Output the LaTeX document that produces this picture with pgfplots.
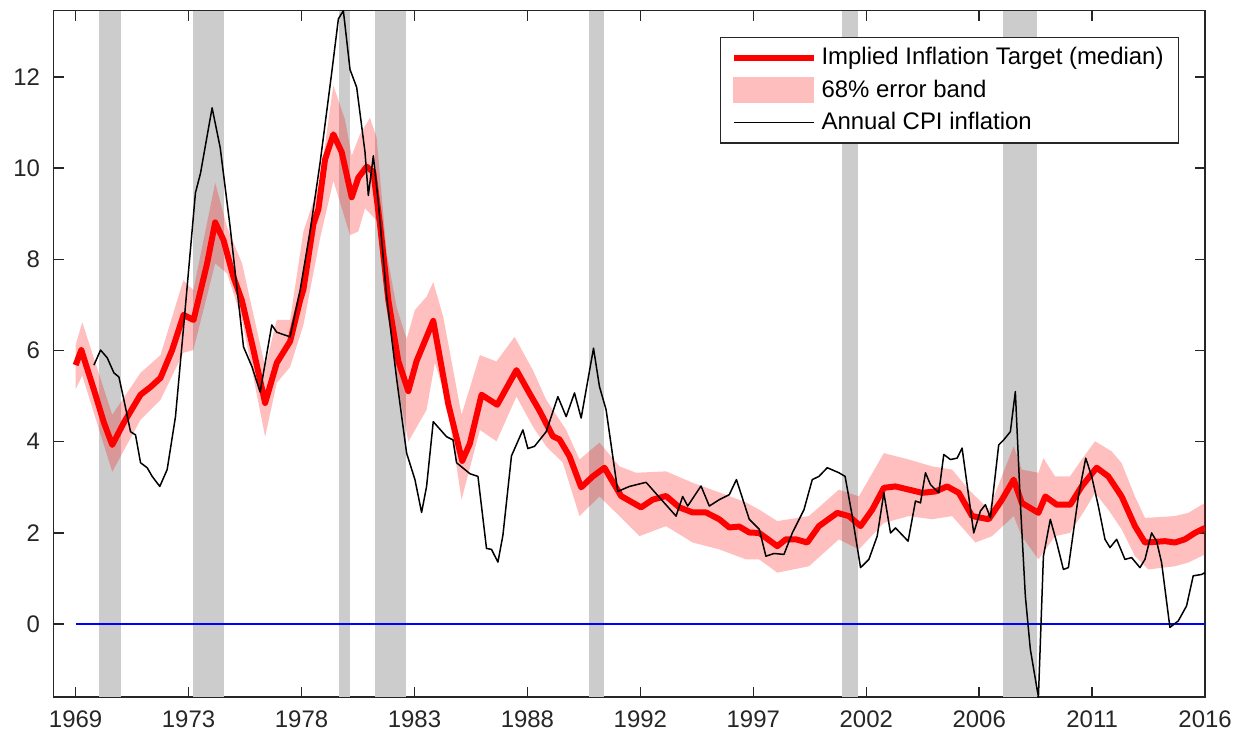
\documentclass[border={2pt 2.8pt 6.4pt 4pt}]{standalone}
\usepackage{fontspec}
\setmainfont{Liberation Sans}
\usepackage{pgfplots}
\pgfplotsset{compat=1.18}

\definecolor{axgray}{RGB}{38,38,38}
\definecolor{recess}{RGB}{204,204,204}
\definecolor{bandred}{RGB}{255,190,190}

\pgfplotsset{
  longline/.style={legend image code/.code={\draw[##1] (0pt,0pt) -- (32pt,0pt);}},
  longarea/.style={legend image code/.code={\fill[bandred] (0pt,-5pt) rectangle (32pt,5pt);}},
  recession/.style={fill=recess, draw=none, forget plot},
}

\begin{document}
\begin{tikzpicture}
\begin{axis}[
  scale only axis,
  width=461.6pt, height=275.2pt,
  xmin=1968.08, xmax=2016.5,
  ymin=-1.6, ymax=13.45,
  xtick={1969,1973.75,1978.5,1983.25,1988,1992.75,1997.5,2002.25,2007,2011.75,2016.5},
  xticklabels={1969,1973,1978,1983,1988,1992,1997,2002,2006,2011,2016},
  ytick={0,2,4,6,8,10,12},
  axis line style={axgray, line width=0.6pt},
  major tick style={axgray, line width=0.6pt},
  major tick length=4pt,
  tick label style={font=\fontsize{9.6}{11.5}\selectfont, text=axgray},
  /pgf/number format/assume math mode=true,
  yticklabel style={xshift=-2pt},
  xticklabel style={yshift=-2pt},
  legend style={at={(0.9775,0.962)}, anchor=north east, draw=axgray,
    line width=0.5pt, fill=white, font=\fontsize{9.6}{11.5}\selectfont,
    inner xsep=4pt, inner ysep=2pt, row sep=0.5pt},
  legend cell align=left,
]

% recessions
\addplot[recession] coordinates {(1970.00,-1.6) (1970.00,13.45) (1970.90,13.45) (1970.90,-1.6)};
\addplot[recession] coordinates {(1973.92,-1.6) (1973.92,13.45) (1975.22,13.45) (1975.22,-1.6)};
\addplot[recession] coordinates {(1980.07,-1.6) (1980.07,13.45) (1980.55,13.45) (1980.55,-1.6)};
\addplot[recession] coordinates {(1981.58,-1.6) (1981.58,13.45) (1982.89,13.45) (1982.89,-1.6)};
\addplot[recession] coordinates {(1990.57,-1.6) (1990.57,13.45) (1991.22,13.45) (1991.22,-1.6)};
\addplot[recession] coordinates {(2001.23,-1.6) (2001.23,13.45) (2001.90,13.45) (2001.90,-1.6)};
\addplot[recession] coordinates {(2007.98,-1.6) (2007.98,13.45) (2009.45,13.45) (2009.45,-1.6)};

% 68% band: upper edge forward, lower edge back
\addplot[fill=red, fill opacity=0.25, draw=none, forget plot] coordinates {
(1969.00,6.12) (1969.28,6.62) (1970.54,4.59) (1971.73,5.51) (1972.57,5.90) (1973.53,7.54) (1973.95,7.32)
(1974.87,9.68) (1975.37,8.70) (1976.00,7.91) (1976.97,5.64) (1977.46,6.67) (1978.02,6.67) (1978.58,8.61)
(1979.28,9.72) (1979.70,11.30) (1979.84,11.81) (1980.33,11.06) (1980.61,10.27) (1980.96,10.74) (1981.38,11.10)
(1981.66,10.67) (1982.08,8.14) (1982.50,6.95) (1982.92,6.25) (1983.27,6.89) (1983.76,7.18) (1984.04,7.50)
(1984.46,6.74) (1985.23,4.59) (1986.00,5.90) (1986.70,5.76) (1987.46,6.30) (1988.23,5.57) (1988.79,4.92)
(1989.63,4.26) (1990.19,3.61) (1991.03,3.98) (1991.87,3.46) (1992.57,3.32) (1993.83,3.35) (1994.95,3.10)
(1996.07,2.89) (1997.19,2.67) (1997.75,2.51) (1998.51,2.26) (1999.84,2.37) (2001.10,2.95) (2001.94,2.80)
(2002.99,3.75) (2004.04,3.61) (2005.02,3.46) (2005.86,3.39) (2006.56,2.95) (2007.40,2.51) (2008.45,3.90)
(2008.79,3.39) (2009.49,3.32) (2009.70,3.64) (2010.19,3.24) (2010.82,3.24) (2011.31,3.61) (2011.87,4.01)
(2012.57,3.79) (2012.99,3.53) (2013.55,2.80) (2013.97,2.33) (2015.23,2.37) (2015.79,2.44) (2016.50,2.66)
(2016.50,1.53) (2015.79,1.35) (2015.23,1.27) (2014.11,1.20) (2013.55,1.49) (2012.99,2.08) (2012.43,2.51)
(2011.87,2.88) (2011.45,2.51) (2010.82,2.00) (2010.19,1.93) (2009.49,1.42) (2008.79,1.93) (2008.45,2.37)
(2007.54,1.93) (2006.84,1.79) (2005.86,2.37) (2005.02,2.30) (2004.04,2.37) (2002.99,2.22) (2001.94,1.64)
(2001.10,1.86) (1999.84,1.27) (1998.51,1.13) (1997.75,1.42) (1997.19,1.42) (1996.07,1.64) (1994.95,1.79)
(1993.83,2.15) (1992.71,1.93) (1991.87,2.37) (1991.03,2.80) (1990.19,2.37) (1989.49,3.54) (1988.79,3.90)
(1988.23,4.33) (1987.54,4.99) (1986.70,4.01) (1986.00,4.26) (1985.23,2.73) (1984.60,4.92) (1984.11,5.73)
(1983.76,4.70) (1982.99,4.00) (1982.50,5.38) (1982.08,6.95) (1981.66,8.85) (1981.17,9.12) (1980.89,8.61)
(1980.54,8.53) (1979.84,9.72) (1979.28,8.46) (1978.58,6.56) (1978.02,5.64) (1977.46,5.29) (1976.97,4.11)
(1976.00,6.67) (1975.37,7.69) (1974.87,7.91) (1973.95,6.01) (1973.53,5.95) (1972.57,4.92) (1971.73,4.48)
(1970.54,3.34) (1969.28,5.45) (1969.00,5.15)
};

% zero line
\addplot[blue, line width=0.6pt, forget plot] coordinates {(1969.00,0) (2016.50,0)};

% implied inflation target (median)
\addplot[red, line width=2.4pt, line join=round, forget plot] coordinates {
(1969.00,5.68) (1969.24,6.01) (1969.77,5.14) (1970.19,4.42) (1970.54,3.93) (1971.03,4.42) (1971.73,5.03)
(1972.15,5.20) (1972.57,5.40) (1973.06,6.01) (1973.54,6.78) (1973.96,6.67) (1974.53,7.91) (1974.87,8.81)
(1975.22,8.42) (1975.64,7.61) (1975.99,7.10) (1976.48,6.01) (1976.97,4.85) (1977.46,5.73) (1978.02,6.20)
(1978.44,7.10) (1978.58,7.34) (1979.00,8.77) (1979.21,9.10) (1979.49,10.19) (1979.84,10.74) (1980.19,10.35)
(1980.61,9.36) (1980.89,9.79) (1981.24,10.03) (1981.52,9.91) (1981.80,8.77) (1982.15,7.11) (1982.57,5.77)
(1982.99,5.11) (1983.34,5.77) (1984.04,6.65) (1984.67,4.83) (1985.26,3.58) (1985.58,3.96) (1986.07,5.03)
(1986.73,4.81) (1987.54,5.57) (1988.09,5.06) (1988.51,4.68) (1989.07,4.12) (1989.35,4.05) (1989.77,3.68)
(1990.26,3.00) (1990.75,3.24) (1991.24,3.43) (1991.94,2.81) (1992.78,2.56) (1993.27,2.73) (1993.83,2.81)
(1994.39,2.56) (1994.95,2.45) (1995.51,2.45) (1996.07,2.30) (1996.49,2.12) (1996.91,2.14) (1997.33,2.01)
(1997.75,2.00) (1998.51,1.71) (1998.87,1.86) (1999.29,1.86) (1999.77,1.79) (2000.26,2.15) (2001.03,2.44)
(2001.52,2.37) (2002.01,2.15) (2002.50,2.51) (2002.99,2.99) (2003.48,3.02) (2004.04,2.95) (2004.60,2.88)
(2005.16,2.91) (2005.65,3.02) (2006.14,2.88) (2006.70,2.37) (2007.40,2.30) (2007.96,2.73) (2008.45,3.17)
(2008.79,2.66) (2009.49,2.44) (2009.78,2.80) (2010.26,2.62) (2010.83,2.62) (2011.31,3.02) (2011.94,3.43)
(2012.43,3.24) (2012.99,2.80) (2013.55,2.15) (2013.97,1.79) (2014.81,1.82) (2015.23,1.79) (2015.65,1.86)
(2016.07,2.00) (2016.49,2.11)
};

% annual CPI inflation
\addplot[black, line width=0.6pt, line join=round, forget plot] coordinates {
(1969.77,5.68) (1970.05,6.01) (1970.33,5.84) (1970.61,5.51) (1970.82,5.42) (1971.03,4.92) (1971.31,4.22)
(1971.52,4.15) (1971.73,3.54) (1972.01,3.43) (1972.22,3.24) (1972.54,3.02) (1972.85,3.39) (1973.20,4.55)
(1973.54,6.51) (1974.04,9.46) (1974.25,9.88) (1974.74,11.32) (1975.08,10.45) (1975.50,8.70) (1976.06,6.08)
(1976.42,5.64) (1976.76,5.09) (1977.25,6.56) (1977.46,6.40) (1978.02,6.30) (1978.44,7.32) (1978.86,8.61)
(1979.28,10.11) (1979.77,12.09) (1980.05,13.27) (1980.26,13.45) (1980.54,12.16) (1980.82,11.77) (1981.17,10.35)
(1981.31,9.40) (1981.52,10.27) (1981.73,9.25) (1982.08,7.19) (1982.50,5.38) (1982.92,3.75) (1983.27,3.17)
(1983.55,2.45) (1983.76,3.02) (1984.04,4.44) (1984.60,4.11) (1984.87,4.04) (1985.02,3.54) (1985.58,3.30)
(1985.92,3.24) (1986.28,1.66) (1986.49,1.64) (1986.76,1.36) (1986.97,1.95) (1987.33,3.69) (1987.81,4.26)
(1988.02,3.85) (1988.30,3.90) (1988.79,4.22) (1989.28,4.99) (1989.63,4.55) (1989.98,5.07) (1990.26,4.52)
(1990.78,6.05) (1991.03,5.21) (1991.31,4.70) (1991.80,2.91) (1992.29,3.02) (1992.99,3.11) (1993.55,2.78)
(1994.25,2.37) (1994.53,2.80) (1994.74,2.59) (1995.30,3.03) (1995.65,2.59) (1996.07,2.73) (1996.49,2.84)
(1996.79,3.17) (1997.33,2.30) (1997.75,2.08) (1998.03,1.49) (1998.37,1.55) (1998.79,1.53) (1999.14,2.00)
(1999.63,2.51) (1999.98,3.17) (2000.26,3.24) (2000.61,3.43) (2001.10,3.32) (2001.36,3.24) (2001.66,2.37)
(2002.01,1.24) (2002.36,1.42) (2002.71,1.93) (2002.99,2.88) (2003.27,2.00) (2003.48,2.11) (2004.01,1.82)
(2004.32,2.70) (2004.53,2.66) (2004.74,3.32) (2004.95,3.06) (2005.30,2.88) (2005.51,3.72) (2005.79,3.61)
(2006.07,3.64) (2006.28,3.86) (2006.77,2.00) (2007.05,2.48) (2007.26,2.62) (2007.47,2.33) (2007.82,3.93)
(2008.03,4.04) (2008.31,4.22) (2008.52,5.10) (2008.73,2.66) (2008.94,0.62) (2009.15,-0.55) (2009.49,-1.60)
(2009.70,1.49) (2009.99,2.30) (2010.26,1.79) (2010.54,1.20) (2010.75,1.24) (2011.17,2.80) (2011.48,3.64)
(2011.73,3.24) (2012.01,2.59) (2012.29,1.86) (2012.50,1.68) (2012.78,1.86) (2013.13,1.42) (2013.41,1.46)
(2013.76,1.24) (2013.97,1.42) (2014.25,2.00) (2014.46,1.82) (2014.67,1.35) (2015.02,-0.07) (2015.37,0.07)
(2015.72,0.40) (2016.00,1.06) (2016.35,1.09) (2016.50,1.13)
};

\addlegendimage{red, line width=2.4pt, longline}
\addlegendentry{Implied Inflation Target (median)}
\addlegendimage{longarea}
\addlegendentry{68\% error band}
\addlegendimage{black, line width=0.6pt, longline}
\addlegendentry{Annual CPI inflation}
\end{axis}
\end{tikzpicture}
\end{document}
